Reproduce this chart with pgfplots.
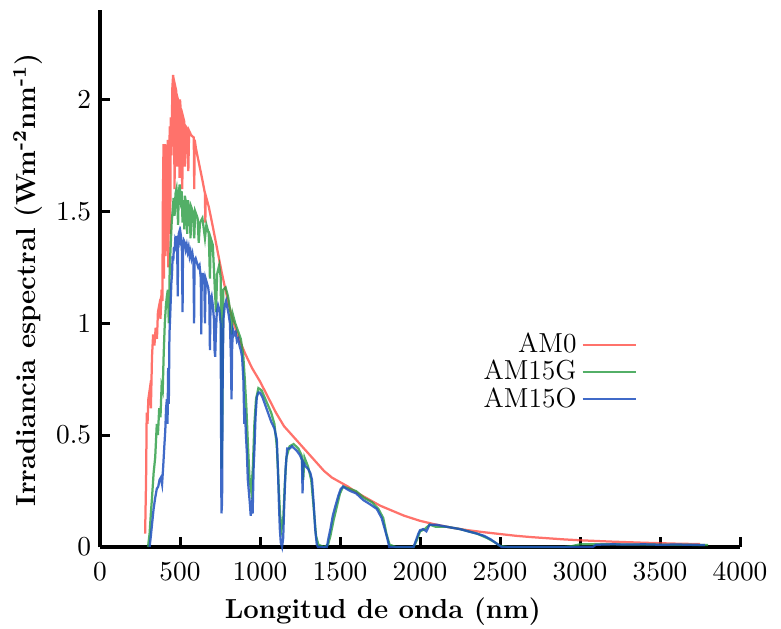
\documentclass[border=0pt]{standalone}
\usepackage{pgfplots}
\pgfplotsset{compat=1.18}

\definecolor{amcero}{RGB}{255,60,50}
\definecolor{amglobal}{RGB}{40,155,65}
\definecolor{amdirecta}{RGB}{30,80,190}

\begin{document}
\begin{tikzpicture}
\begin{axis}[
    at={(0,0)}, anchor=south west,
    scale only axis,
    width=256pt, height=214.8pt,
    xmin=0, xmax=4000, ymin=0, ymax=2.4,
    axis x line*=bottom, axis y line*=left,
    axis line style={line width=1.4pt, -},
    major tick style={line width=1.2pt, black},
    major tick length=4pt,
    tick align=inside,
    xtick distance=500,
    ytick={0,0.5,1,1.5,2},
    scaled x ticks=false,
    /pgf/number format/set thousands separator={},
    tick label style={font=\fontsize{11}{13}\selectfont},
    xticklabel style={yshift=-3pt},
    xlabel={Longitud de onda (nm)},
    ylabel={Irradiancia espectral (Wm\textsuperscript{-2}nm\textsuperscript{-1})},
    label style={font=\bfseries\fontsize{11}{13}\selectfont},
    xlabel style={at={(axis description cs:0.442,-0.134)}, anchor=base},
    ylabel style={at={(axis description cs:-0.1125,0.497)}, anchor=center},
    legend plot pos=right,
    legend cell align=right,
    legend style={at={(axis description cs:0.84,0.326)}, anchor=east,
        draw=none, fill=none, inner sep=0pt, row sep=-2.5pt,
        font=\fontsize{11}{13}\selectfont},
    legend image code/.code={\draw[#1] (0cm,0cm) -- (0.75cm,0cm);},
    clip=false,
]
% AM0
\addplot[amcero, line width=0.9pt, draw opacity=0.72] coordinates {
(282,0.06)(288,0.3)(292,0.6)(297,0.55)(302,0.66)(310,0.7)(318,0.62)(325,0.85)
(332,0.95)(340,0.9)(348,0.98)(356,0.93)(362,1.05)(370,1.08)(378,1.02)(385,1.15)
(390,1.1)(393,1.55)(397,1.8)(400,1.2)(403,1.78)(407,1.8)(410,1.3)(413,1.75)
(418,1.5)(423,1.82)(427,1.25)(430,1.6)(436,1.88)(439,1.4)(442,1.92)(447,1.75)
(452,2.05)(457,2.11)(462,1.98)(466,1.6)(470,2.06)(476,2.04)(482,1.7)(487,2.0)
(494,1.98)(497,1.65)(500,2.0)(507,1.93)(514,1.6)(520,1.92)(527,1.9)(531,1.7)
(536,1.88)(545,1.87)(552,1.68)(557,1.86)(570,1.84)(586,1.83)(589,1.6)(592,1.82)
(600,1.78)(620,1.71)(640,1.64)(656,1.58)(658,1.45)(661,1.57)(680,1.52)(700,1.45)
(730,1.34)(760,1.23)(790,1.13)(820,1.04)
(850,0.97)(880,0.91)(910,0.86)(950,0.8)(1000,0.74)(1050,0.67)(1100,0.6)(1150,0.54)
(1200,0.5)(1250,0.46)(1300,0.42)(1350,0.38)(1400,0.34)(1450,0.31)(1500,0.29)
(1550,0.27)(1600,0.245)(1650,0.225)(1700,0.205)(1750,0.185)(1800,0.17)(1900,0.14)
(2000,0.117)(2100,0.1)(2200,0.086)(2300,0.075)(2400,0.066)(2500,0.058)(2600,0.05)
(2700,0.044)(2800,0.039)(2900,0.034)(3000,0.03)(3200,0.024)(3400,0.019)
(3600,0.015)(3750,0.013)
};
% AM1.5G
\addplot[amglobal, line width=0.9pt, draw opacity=0.8] coordinates {
(300,0.0)(310,0.06)(318,0.15)(325,0.22)(335,0.33)(345,0.4)(355,0.55)(362,0.5)
(370,0.62)(378,0.58)(385,0.72)(392,0.7)(398,0.86)(405,1.0)(412,1.08)(418,1.12)
(424,1.15)(430,1.0)(436,1.25)(442,1.35)(448,1.45)(454,1.5)(460,1.56)(466,1.48)
(472,1.58)(478,1.6)(484,1.52)(488,1.44)(492,1.58)(498,1.62)(504,1.56)(510,1.59)
(516,1.45)(522,1.55)(527,1.42)(530,1.57)(540,1.53)(545,1.4)(550,1.55)(560,1.5)
(566,1.38)(570,1.52)(580,1.5)(589,1.38)(595,1.5)(610,1.47)(617,1.36)(625,1.45)
(640,1.47)(656,1.38)(665,1.44)(680,1.4)(687,1.2)(692,1.38)(705,1.35)(718,1.15)
(725,1.05)(732,1.22)(745,1.26)(755,1.2)(760,0.35)(765,0.6)(770,1.15)(785,1.16)
(800,1.12)(815,1.05)(823,0.95)(830,1.04)(845,1.0)(860,0.97)(880,0.93)(895,0.86)
(905,0.75)(915,0.62)(925,0.45)(935,0.3)(945,0.25)(955,0.35)(965,0.55)(975,0.66)
(990,0.71)(1010,0.7)(1040,0.65)(1070,0.6)(1090,0.55)(1105,0.45)(1115,0.3)
(1125,0.15)(1135,0.08)(1145,0.12)(1155,0.28)(1165,0.4)(1185,0.45)(1210,0.46)
(1240,0.44)(1260,0.41)(1270,0.3)(1278,0.4)(1300,0.36)(1320,0.3)(1335,0.18)
(1350,0.05)(1365,0.01)(1400,0.0)(1425,0.01)(1440,0.05)(1460,0.12)(1480,0.18)
(1500,0.24)(1520,0.27)(1560,0.26)(1600,0.25)(1650,0.22)(1700,0.2)(1740,0.17)
(1770,0.13)(1790,0.06)(1810,0.01)(1850,0)(1960,0)(1980,0.03)(2000,0.07)
(2030,0.08)(2060,0.1)(2100,0.09)(2170,0.09)(2250,0.08)(2355,0.06)(2420,0.04)
(2470,0.02)(2500,0.005)(2550,0)(2900,0)(2950,0.004)(3000,0.012)(3200,0.012)
(3400,0.011)(3600,0.01)(3800,0.009)
};
% AM1.5 directa
\addplot[amdirecta, line width=0.9pt, draw opacity=0.85] coordinates {
(310,0.0)(318,0.05)(325,0.1)(335,0.17)(345,0.22)(355,0.26)(364,0.27)(372,0.3)
(380,0.31)(388,0.28)(395,0.36)(402,0.45)(408,0.52)(413,0.62)(418,0.66)(422,0.55)
(426,0.8)(430,0.64)(434,0.95)(438,1.02)(442,1.1)(446,1.18)(450,1.22)(454,1.3)
(458,1.28)(462,1.34)(466,1.32)(470,1.37)(474,1.36)(478,1.39)(482,1.36)(486,1.12)
(488,1.36)(492,1.4)(496,1.41)(500,1.38)(504,1.4)(508,1.38)(512,1.32)(516,1.05)
(519,1.35)(524,1.37)(530,1.36)(536,1.33)(542,1.35)(548,1.32)(554,1.34)(560,1.3)
(566,1.32)(572,1.29)(578,1.31)(584,1.28)(588,1.0)(591,1.28)(598,1.29)(606,1.27)
(614,1.25)(622,1.26)(630,1.2)(633,0.95)(636,1.22)(644,1.22)(652,1.19)(656,1.0)
(660,1.2)(668,1.18)(676,1.16)(683,1.12)(687,0.88)(691,1.1)(698,1.12)(705,1.08)
(712,1.02)(716,0.88)(720,0.85)(724,0.95)(730,1.05)(738,1.08)(746,1.06)(754,1.0)
(759,0.15)(763,0.2)(767,0.8)(772,1.02)(780,1.08)(788,1.1)(796,1.07)(804,1.04)
(812,1.0)(818,0.85)(822,0.66)(826,0.9)(832,0.97)(840,0.95)(848,0.96)(856,0.92)
(864,0.93)(872,0.9)(880,0.88)(888,0.85)(896,0.75)(902,0.55)(906,0.62)(912,0.5)
(918,0.42)(924,0.3)(930,0.25)(936,0.2)(942,0.14)(948,0.18)(954,0.15)(960,0.35)
(966,0.45)(972,0.58)(980,0.67)(990,0.69)(1000,0.69)(1015,0.67)(1030,0.64)
(1050,0.6)(1070,0.56)(1090,0.53)(1105,0.48)(1112,0.35)(1118,0.2)(1124,0.08)
(1130,0.02)(1138,0.0)(1145,0.04)(1152,0.2)(1160,0.35)(1170,0.44)(1185,0.44)
(1200,0.45)(1215,0.44)(1230,0.43)(1250,0.41)(1262,0.39)(1266,0.24)(1270,0.38)
(1285,0.36)(1300,0.35)(1315,0.33)(1325,0.3)(1335,0.2)(1345,0.08)(1355,0.01)
(1362,0)(1418,0)(1428,0.04)(1440,0.08)(1455,0.14)(1470,0.18)(1490,0.23)
(1505,0.26)(1520,0.27)(1540,0.26)(1565,0.25)(1600,0.24)(1645,0.21)(1690,0.19)
(1730,0.17)(1760,0.13)(1780,0.08)(1795,0.04)(1808,0.0)(1960,0.0)(1975,0.03)
(1990,0.06)(2000,0.075)(2020,0.08)(2040,0.07)(2060,0.1)(2100,0.1)(2170,0.09)
(2250,0.08)(2300,0.07)(2355,0.06)(2400,0.05)(2440,0.035)(2480,0.015)(2510,0.0)
(3080,0.0)(3100,0.01)(3200,0.012)(3300,0.011)(3400,0.012)(3500,0.01)(3600,0.011)
(3700,0.01)(3780,0.009)
};
\legend{AM0, AM15G, AM15O}
\end{axis}
\pgfresetboundingbox
\path[use as bounding box] (-40pt,-32.4pt) rectangle (272.4pt,218.8pt);
\end{tikzpicture}
\end{document}
